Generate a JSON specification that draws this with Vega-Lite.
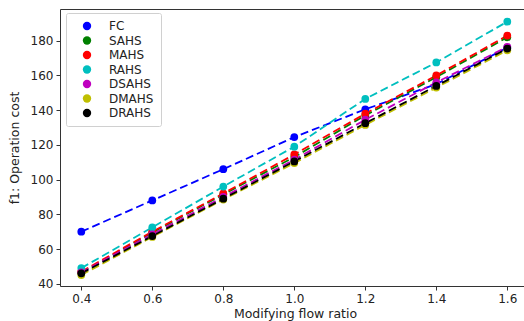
{
  "$schema": "https://vega.github.io/schema/vega-lite/v6.json",
  "width": 470,
  "height": 277,
  "autosize": "none",
  "padding": {"left": 60, "top": 9, "right": 0, "bottom": 35},
  "background": "white",
  "config": {
    "font": "DejaVu Sans",
    "view": {"stroke": "#333333", "strokeWidth": 1},
    "axis": {"grid": false, "domain": false, "tickColor": "#333333", "tickSize": 4, "labelFontSize": 12, "labelColor": "#222222", "titleFontSize": 12.5, "titleFontWeight": "normal", "titleColor": "#222222", "labelPadding": 3}
  },
  "data": {"values": [
    {"x": 0.4, "y": 70, "s": "FC"}, {"x": 0.6, "y": 88, "s": "FC"}, {"x": 0.8, "y": 106, "s": "FC"}, {"x": 1.0, "y": 124.5, "s": "FC"}, {"x": 1.2, "y": 140.5, "s": "FC"}, {"x": 1.4, "y": 155, "s": "FC"}, {"x": 1.6, "y": 176, "s": "FC"},
    {"x": 0.4, "y": 46.5, "s": "SAHS"}, {"x": 0.6, "y": 69.5, "s": "SAHS"}, {"x": 0.8, "y": 91.5, "s": "SAHS"}, {"x": 1.0, "y": 113, "s": "SAHS"}, {"x": 1.2, "y": 137, "s": "SAHS"}, {"x": 1.4, "y": 159, "s": "SAHS"}, {"x": 1.6, "y": 182, "s": "SAHS"},
    {"x": 0.4, "y": 47, "s": "MAHS"}, {"x": 0.6, "y": 70, "s": "MAHS"}, {"x": 0.8, "y": 92, "s": "MAHS"}, {"x": 1.0, "y": 114.5, "s": "MAHS"}, {"x": 1.2, "y": 138, "s": "MAHS"}, {"x": 1.4, "y": 160, "s": "MAHS"}, {"x": 1.6, "y": 183, "s": "MAHS"},
    {"x": 0.4, "y": 49, "s": "RAHS"}, {"x": 0.6, "y": 72.5, "s": "RAHS"}, {"x": 0.8, "y": 96, "s": "RAHS"}, {"x": 1.0, "y": 119, "s": "RAHS"}, {"x": 1.2, "y": 146.5, "s": "RAHS"}, {"x": 1.4, "y": 167.5, "s": "RAHS"}, {"x": 1.6, "y": 191, "s": "RAHS"},
    {"x": 0.4, "y": 46.5, "s": "DSAHS"}, {"x": 0.6, "y": 68.5, "s": "DSAHS"}, {"x": 0.8, "y": 90, "s": "DSAHS"}, {"x": 1.0, "y": 111.5, "s": "DSAHS"}, {"x": 1.2, "y": 134.5, "s": "DSAHS"}, {"x": 1.4, "y": 156, "s": "DSAHS"}, {"x": 1.6, "y": 176.5, "s": "DSAHS"},
    {"x": 0.4, "y": 45, "s": "DMAHS"}, {"x": 0.6, "y": 67, "s": "DMAHS"}, {"x": 0.8, "y": 88.5, "s": "DMAHS"}, {"x": 1.0, "y": 109.5, "s": "DMAHS"}, {"x": 1.2, "y": 131.5, "s": "DMAHS"}, {"x": 1.4, "y": 153, "s": "DMAHS"}, {"x": 1.6, "y": 174.5, "s": "DMAHS"},
    {"x": 0.4, "y": 46, "s": "DRAHS"}, {"x": 0.6, "y": 67.5, "s": "DRAHS"}, {"x": 0.8, "y": 89, "s": "DRAHS"}, {"x": 1.0, "y": 110.5, "s": "DRAHS"}, {"x": 1.2, "y": 132.5, "s": "DRAHS"}, {"x": 1.4, "y": 154, "s": "DRAHS"}, {"x": 1.6, "y": 175.5, "s": "DRAHS"}
  ]},
  "encoding": {
    "x": {"field": "x", "type": "quantitative", "scale": {"domain": [0.34, 1.664], "nice": false, "zero": false},
      "axis": {"values": [0.4, 0.6, 0.8, 1.0, 1.2, 1.4, 1.6], "format": ".1f", "title": "Modifying flow ratio", "titlePadding": 3}},
    "y": {"field": "y", "type": "quantitative", "scale": {"domain": [38.7, 198.3], "nice": false, "zero": false},
      "axis": {"values": [40, 60, 80, 100, 120, 140, 160, 180], "title": "f1: Operation cost", "titlePadding": 9}}
  },
  "layer": [
    {"mark": {"type": "line", "strokeDash": [8, 4], "strokeWidth": 1.8},
     "encoding": {"color": {"field": "s", "type": "nominal", "legend": null,
       "scale": {"domain": ["FC", "SAHS", "MAHS", "RAHS", "DSAHS", "DMAHS", "DRAHS"], "range": ["#0000ff", "#008000", "#ff0000", "#00bfbf", "#bf00bf", "#bfbf00", "#000000"]}}}},
    {"mark": {"type": "point", "filled": true, "opacity": 1, "size": 60, "shape": "circle"},
     "encoding": {"color": {"field": "s", "type": "nominal",
       "scale": {"domain": ["FC", "SAHS", "MAHS", "RAHS", "DSAHS", "DMAHS", "DRAHS"], "range": ["#0000ff", "#008000", "#ff0000", "#00bfbf", "#bf00bf", "#bfbf00", "#000000"]},
       "legend": {"title": null, "orient": "none", "legendX": 6, "legendY": 4, "symbolType": "circle", "symbolSize": 70, "labelFontSize": 12, "labelColor": "#222222", "labelOffset": 16, "rowPadding": 2.5, "padding": 7, "strokeColor": "#d0d0d0", "fillColor": "white", "cornerRadius": 2, "symbolOffset": 8}}}}
  ],
  "resolve": {"legend": {"color": "independent"}}
}
